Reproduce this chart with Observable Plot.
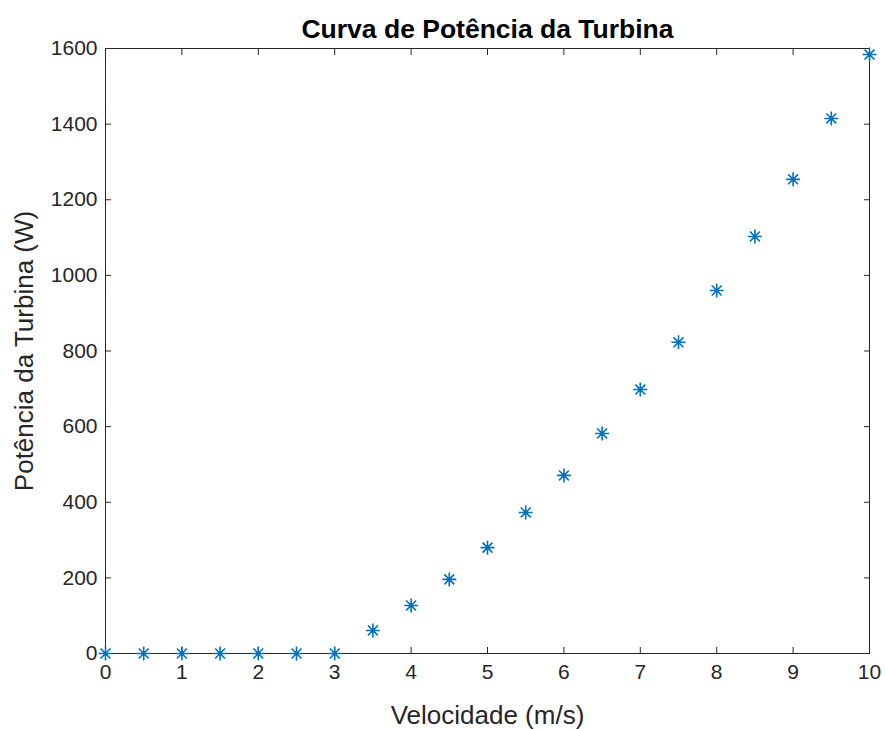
<!DOCTYPE html>
<html>
<head>
<meta charset="utf-8">
<script src="https://cdn.jsdelivr.net/npm/d3@7"></script>
<script src="https://cdn.jsdelivr.net/npm/@observablehq/plot@0.6"></script>
<style>
  html, body { margin: 0; padding: 0; background: #fff; }
  svg { display: block; }
</style>
</head>
<body>
<div id="chart"></div>
<script>
const velocidade = [0, 0.5, 1, 1.5, 2, 2.5, 3, 3.5, 4, 4.5, 5, 5.5, 6, 6.5, 7, 7.5, 8, 8.5, 9, 9.5, 10];
const potencia   = [0, 0, 0, 0, 0, 0, 0, 61, 127, 196, 280, 373, 471, 582, 698, 823, 960, 1103, 1254, 1415, 1584];
const xTicks = [0, 1, 2, 3, 4, 5, 6, 7, 8, 9, 10];
const yTicks = [0, 200, 400, 600, 800, 1000, 1200, 1400, 1600];
const title = "Curva de Potência da Turbina";
const xLabel = "Velocidade (m/s)";
const yLabel = "Potência da Turbina (W)";

const data = velocidade.map((v, i) => ({v, p: potencia[i]}));

// MATLAB-style 8-arm asterisk
const asterisk8 = {
  draw(context, size) {
    const r = Math.sqrt(size / Math.PI);
    const d = r * Math.SQRT1_2;
    context.moveTo(0, -r); context.lineTo(0, r);
    context.moveTo(-r, 0); context.lineTo(r, 0);
    context.moveTo(-d, -d); context.lineTo(d, d);
    context.moveTo(-d, d); context.lineTo(d, -d);
  }
};

const axisColor = "#262626";
const chart = Plot.plot({
  width: 885,
  height: 729,
  marginLeft: 105,
  marginRight: 16,
  marginTop: 48,
  marginBottom: 76,
  style: {fontFamily: "'Liberation Sans', Arial, Helvetica, sans-serif", fontSize: "21px", color: axisColor, background: "#fff"},
  x: {domain: [0, 10]},
  y: {domain: [0, 1600]},
  marks: [
    Plot.frame({stroke: axisColor, strokeWidth: 1}),
    Plot.axisX(xTicks, {anchor: "bottom", tickSize: -6, tickPadding: 17, tickFormat: d => String(d), label: null, stroke: axisColor, fill: axisColor, fontSize: 21}),
    Plot.axisX(xTicks, {anchor: "top", tickSize: -6, text: null, label: null, stroke: axisColor}),
    Plot.axisY(yTicks, {anchor: "left", tickSize: -6, tickPadding: 14, tickFormat: d => String(d), label: null, stroke: axisColor, fill: axisColor, fontSize: 21}),
    Plot.axisY(yTicks, {anchor: "right", tickSize: -6, text: null, label: null, stroke: axisColor}),
    Plot.text([xLabel], {frameAnchor: "bottom", lineAnchor: "middle", textAnchor: "middle", dy: 62, fontSize: 26, fill: axisColor}),
    Plot.text([yLabel], {frameAnchor: "left", lineAnchor: "middle", textAnchor: "middle", dx: -81, rotate: -90, fontSize: 26, fill: axisColor}),
    Plot.text([title], {frameAnchor: "top", lineAnchor: "middle", textAnchor: "middle", dy: -19, fontSize: 26.5, fontWeight: "bold", fill: "#000"}),
    Plot.dot(data, {x: "v", y: "p", symbol: asterisk8, r: 7, stroke: "#0072BD", strokeWidth: 1.6, fill: "none", clip: false})
  ]
});
document.getElementById("chart").appendChild(chart);
</script>
</body>
</html>
